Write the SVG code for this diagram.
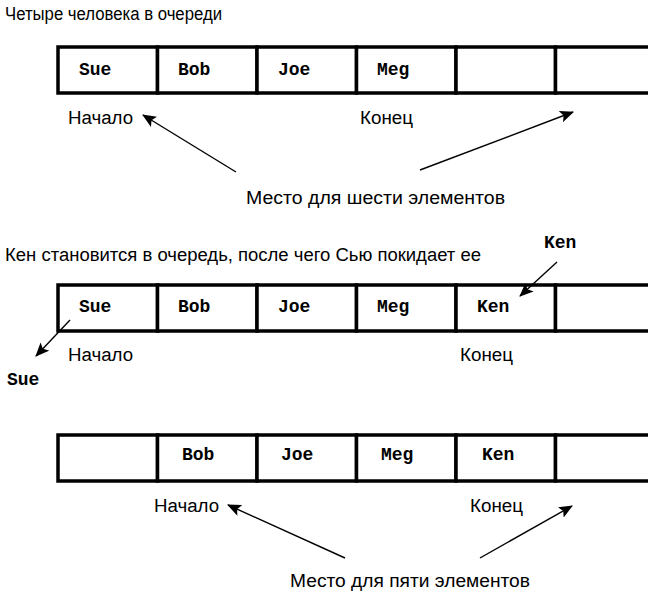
<svg xmlns="http://www.w3.org/2000/svg" width="648" height="593" viewBox="0 0 648 593">
<defs>
<style>
.lbl{font-family:"Liberation Sans","Arial",sans-serif;font-size:18px;fill:#000}
.cell{font-family:"Liberation Mono","Courier New",monospace;font-size:18px;font-weight:bold;fill:#000}
.box{fill:#fff;stroke:#000;stroke-width:3.5}
.arr{stroke:#000;stroke-width:1.4;fill:none;marker-end:url(#ah)}
</style>
<marker id="ah" markerUnits="userSpaceOnUse" markerWidth="14" markerHeight="12" refX="13" refY="6" orient="auto">
<path d="M0,0 L14,6 L0,12 L3,6 Z" fill="#000"/>
</marker>
</defs>
<rect width="648" height="593" fill="#fff"/>

<g id="title1"><text class="lbl" x="5" y="20" textLength="217" lengthAdjust="spacingAndGlyphs">Четыре человека в очереди</text></g>

<g id="queue1">
<rect class="box" x="58" y="47" width="99.5" height="46"/>
<rect class="box" x="157.5" y="47" width="99.5" height="46"/>
<rect class="box" x="257" y="47" width="99.5" height="46"/>
<rect class="box" x="356.5" y="47" width="99.5" height="46"/>
<rect class="box" x="456" y="47" width="99.5" height="46"/>
<rect class="box" x="555.5" y="47" width="99.5" height="46"/>
<text class="cell" x="79" y="75">Sue</text>
<text class="cell" x="178" y="75">Bob</text>
<text class="cell" x="278" y="75">Joe</text>
<text class="cell" x="377" y="75">Meg</text>
</g>
<g id="labels1">
<text class="lbl" x="68" y="124" textLength="65" lengthAdjust="spacingAndGlyphs">Начало</text>
<text class="lbl" x="360" y="124" textLength="53" lengthAdjust="spacingAndGlyphs">Конец</text>
<text class="lbl" x="246" y="204" textLength="259" lengthAdjust="spacingAndGlyphs">Место для шести элементов</text>
</g>

<g id="title2"><text class="lbl" x="5" y="261" textLength="476" lengthAdjust="spacingAndGlyphs">Кен становится в очередь, после чего Сью покидает ее</text></g>
<g id="kenIn"><text class="cell" x="544" y="248">Ken</text></g>

<g id="queue2">
<rect class="box" x="58" y="285" width="99.5" height="46"/>
<rect class="box" x="157.5" y="285" width="99.5" height="46"/>
<rect class="box" x="257" y="285" width="99.5" height="46"/>
<rect class="box" x="356.5" y="285" width="99.5" height="46"/>
<rect class="box" x="456" y="285" width="99.5" height="46"/>
<rect class="box" x="555.5" y="285" width="99.5" height="46"/>
<text class="cell" x="79" y="312">Sue</text>
<text class="cell" x="178" y="312">Bob</text>
<text class="cell" x="278" y="312">Joe</text>
<text class="cell" x="377" y="312">Meg</text>
<text class="cell" x="477" y="312">Ken</text>
</g>
<g id="labels2">
<text class="lbl" x="68" y="361" textLength="65" lengthAdjust="spacingAndGlyphs">Начало</text>
<text class="lbl" x="460" y="361" textLength="53" lengthAdjust="spacingAndGlyphs">Конец</text>
</g>
<g id="sueOut"><text class="cell" x="7" y="385">Sue</text></g>

<g id="queue3">
<rect class="box" x="58" y="435" width="99.5" height="46"/>
<rect class="box" x="157.5" y="435" width="99.5" height="46"/>
<rect class="box" x="257" y="435" width="99.5" height="46"/>
<rect class="box" x="356.5" y="435" width="99.5" height="46"/>
<rect class="box" x="456" y="435" width="99.5" height="46"/>
<rect class="box" x="555.5" y="435" width="99.5" height="46"/>
<text class="cell" x="182" y="460">Bob</text>
<text class="cell" x="281" y="460">Joe</text>
<text class="cell" x="381" y="460">Meg</text>
<text class="cell" x="482" y="460">Ken</text>
</g>
<g id="labels3">
<text class="lbl" x="154" y="512" textLength="65" lengthAdjust="spacingAndGlyphs">Начало</text>
<text class="lbl" x="470" y="512" textLength="53" lengthAdjust="spacingAndGlyphs">Конец</text>
<text class="lbl" x="290" y="587" textLength="240" lengthAdjust="spacingAndGlyphs">Место для пяти элементов</text>
</g>

<g id="connectors">
<line class="arr" x1="236" y1="172" x2="143" y2="115"/>
<line class="arr" x1="420" y1="170" x2="573" y2="112"/>
<line class="arr" x1="557" y1="262" x2="520" y2="296"/>
<line class="arr" x1="70" y1="320" x2="36" y2="356"/>
<line class="arr" x1="345" y1="558" x2="228" y2="505"/>
<line class="arr" x1="480" y1="558" x2="572" y2="506"/>
</g>
</svg>
